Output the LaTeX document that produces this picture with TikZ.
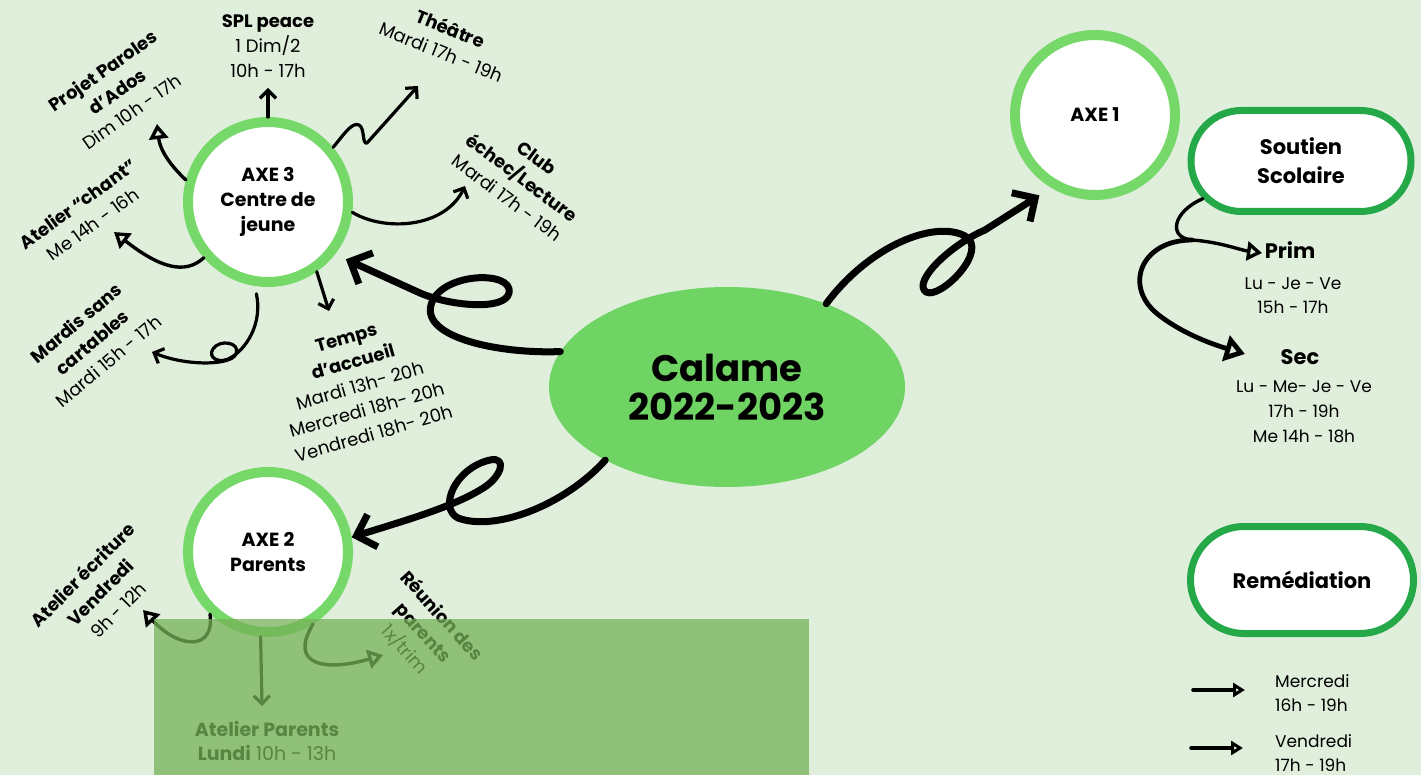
\documentclass[tikz,border=0pt]{standalone}
\usepackage{fontspec}
\setmainfont{Poppins}
\usetikzlibrary{arrows.meta,shapes.geometric,shapes.misc,calc}
\definecolor{bg}{RGB}{223,239,220}
\definecolor{ellfill}{RGB}{111,212,99}
\definecolor{ringgreen}{RGB}{117,216,104}
\definecolor{boxgreen}{RGB}{36,168,72}
\definecolor{veil}{RGB}{118,178,88}
\begin{document}
\begin{tikzpicture}[x=1pt,y=-1pt,
  axe/.style={circle, draw=ringgreen, line width=10pt, fill=white, minimum size=160pt, inner sep=0pt, align=center, font=\fontsize{19}{25}\selectfont\bfseries},
  pill/.style={rounded rectangle, draw=boxgreen, line width=7pt, fill=white, minimum width=220pt, minimum height=101pt, inner sep=0pt, align=center, font=\fontsize{21}{29}\selectfont\bfseries},
  lbl/.style={align=center, inner sep=0pt, font=\fontsize{18}{25}\selectfont},
  barb/.style={line width=3.2pt, line cap=round, line join=round, -{Straight Barb[length=8pt,width=16pt]}},
  tri/.style={line width=3.4pt, line cap=round, line join=round, -{Triangle[open,length=15pt,width=19pt]}},
  smalltri/.style={line width=3.6pt, line cap=round, line join=round, -{Triangle[open,length=12pt,width=14pt]}},
  bigtri/.style={line width=4.8pt, line cap=round, line join=round, -{Triangle[open,length=20pt,width=26pt]}},
  big/.style={line width=7pt, line cap=round, line join=round, -{Straight Barb[length=17pt,width=34pt]}},
]
\fill[bg] (0,0) rectangle (1421,775);
\useasboundingbox (0,0) rectangle (1421,775);

% main nodes
\node[ellipse, fill=ellfill, minimum width=356pt, minimum height=200pt, inner sep=0pt, align=center, font=\fontsize{37}{39}\selectfont\bfseries] (calame) at (727,387) {Calame\\2022-2023};
\node[axe] (axe3) at (268,202) {AXE 3\\Centre de\\jeune};
\node[axe] (axe2) at (268,552) {AXE 2\\Parents};
\node[axe] (axe1) at (1095,115) {AXE 1};
\node[pill] (soutien) at (1301,161) {Soutien\\Scolaire};
\node[pill, minimum width=223pt, minimum height=107pt] (remed) at (1302,580) {Remédiation};

% labels around AXE 3
\node[lbl, rotate=35] (projet) at (117,91) {\textbf{Projet Paroles}\\\textbf{d'Ados}\\Dim 10h - 17h};
\node[lbl] (spl) at (268,46) {\textbf{SPL peace}\\1 Dim/2\\10h - 17h};
\node[lbl, rotate=-22] (theatre) at (446,40) {\textbf{Théâtre}\\Mardi 17h - 19h};
\node[lbl, rotate=-37] (club) at (522,178) {\textbf{Club}\\\textbf{échec/Lecture}\\Mardi 17h - 19h};
\node[lbl, rotate=36] (chant) at (85,214) {\textbf{Atelier “chant”}\\Me 14h - 16h};
\node[lbl, rotate=40] (mardis) at (92,342) {\textbf{Mardis sans}\\\textbf{cartables}\\Mardi 15h - 17h};
\node[lbl, rotate=16] (temps) at (360,386) {\textbf{Temps}\\\textbf{d'accueil}\\Mardi 13h- 20h\\Mercredi 18h- 20h\\Vendredi 18h- 20h};

% labels around AXE 2
\node[lbl, rotate=45] (ecriture) at (100,592) {\textbf{Atelier écriture}\\\textbf{Vendredi}\\9h - 12h};
\node[lbl, rotate=-48] (reunion) at (423,633) {\textbf{Réunion des}\\\textbf{parents}\\1x/trim};
\node[lbl, font=\fontsize{19}{24}\selectfont] (aparents) at (267,741) {\textbf{Atelier Parents}\\\textbf{Lundi} 10h - 13h};

% AXE 1 labels
\node[lbl, font=\fontsize{21}{25}\selectfont\bfseries] (prim) at (1290,250) {Prim};
\node[lbl, font=\fontsize{17}{24}\selectfont] (primt) at (1293,296) {Lu - Je - Ve\\15h - 17h};
\node[lbl, font=\fontsize{21}{25}\selectfont\bfseries] (sec) at (1300,357) {Sec};
\node[lbl, font=\fontsize{17}{25}\selectfont] (sect) at (1304,412) {Lu - Me- Je - Ve\\17h - 19h\\Me 14h - 18h};
\node[lbl, font=\fontsize{17}{24}\selectfont, align=left, anchor=west] (merc) at (1275,693) {Mercredi\\16h - 19h};
\node[lbl, font=\fontsize{17}{24}\selectfont, align=left, anchor=west] (vend) at (1275,753) {Vendredi\\17h - 19h};

% free ends
\coordinate (tProjet) at (157,124);
\coordinate (tSPL) at (268,88);
\coordinate (tTheatre) at (418,86);
\coordinate (tClub) at (465,186);
\coordinate (tChant) at (114,232);
\coordinate (tMardis) at (152,352);
\coordinate (tTemps) at (329,311);
\coordinate (tEcr) at (143,610);
\coordinate (tAP) at (262,706);
\coordinate (tReu) at (383,655);
\coordinate (fork) at (1192,240);
\coordinate (tPrim) at (1262,253);
\coordinate (tSec) at (1245,354);
\coordinate (m0) at (1193,690);
\coordinate (v0) at (1191,748);

% central connectors
\draw[big, shorten >=14pt] (calame.40) .. controls (870,245) and (935,220) .. (965,236)
   .. controls (990,250) and (940,300) .. (926,292)
   .. controls (912,282) and (950,245) .. (985,230) -- (axe1.239);
\draw[big, shorten >=12pt] (calame.168) .. controls (500,354) and (422,338) .. (431,305)
   .. controls (440,272) and (514,270) .. (509,293)
   .. controls (505,311) and (450,306) .. (420,293) -- (axe3.-38);
\draw[big] (calame.211) .. controls (565,505) and (495,532) .. (458,518)
   .. controls (438,508) and (455,468) .. (490,460)
   .. controls (508,456) and (502,478) .. (480,490)
   .. controls (450,508) and (400,522) .. (axe2.10);

% AXE 3 branches
\draw[tri] (axe3.165) .. controls (170,165) and (160,150) .. (tProjet);
\draw[barb] (axe3.90) -- (tSPL);
\draw[barb] (axe3.40) .. controls (345,133) and (352,122) .. (359,125)
   .. controls (365,128) and (362,145) .. (367,143) -- (tTheatre);
\draw[barb] (axe3.-7) .. controls (385,232) and (445,228) .. (tClub);
\draw[tri] (axe3.221) .. controls (185,275) and (160,268) .. (tChant);
\draw[barb, shorten <=8pt] (axe3.261) .. controls (262,320) and (250,345) .. (232,357)
   .. controls (220,365) and (207,358) .. (213,349)
   .. controls (219,339) and (241,342) .. (236,354)
   .. controls (231,366) and (185,366) .. (tMardis);
\draw[barb] (axe3.-55) -- (tTemps);

% AXE 2 branches
\draw[tri] (axe2.227) .. controls (215,650) and (180,650) .. (tEcr);
\draw[barb] (axe2.265) -- (tAP);
\draw[tri] (axe2.-58) .. controls (288,665) and (325,672) .. (tReu);

% Soutien branches
\draw[tri] (soutien.201) .. controls (1172,212) and (1168,238) .. (fork)
   .. controls (1220,242) and (1240,250) .. (tPrim);
\draw[bigtri] (fork) .. controls (1140,240) and (1122,288) .. (1160,316)
   .. controls (1185,335) and (1215,345) .. (tSec);

% Remediation arrows
\draw[smalltri, shorten >=30pt] (m0) -- (merc.west |- m0);
\draw[smalltri, shorten >=32pt] (v0) -- (vend.west |- v0);

% veil
\fill[veil, fill opacity=0.75] (154,619) rectangle (809,775);
\end{tikzpicture}
\end{document}
